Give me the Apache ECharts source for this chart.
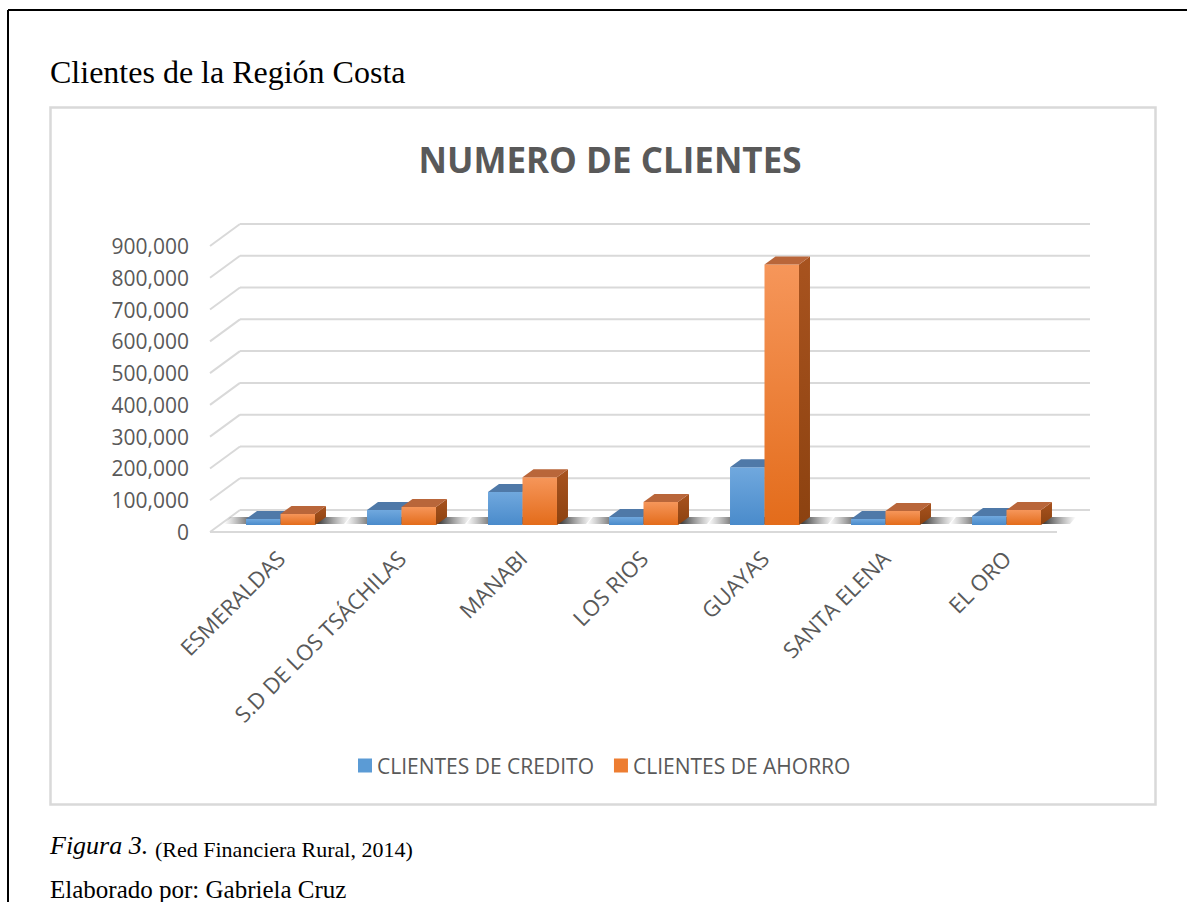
<!DOCTYPE html>
<html>
<head>
<meta charset="utf-8">
<title>Clientes de la Región Costa</title>
<script src="https://cdn.jsdelivr.net/npm/echarts@6/dist/echarts.min.js"></script>
<style>
  html, body { margin: 0; padding: 0; background: #fff; }
  #chart { width: 1187px; height: 902px; }
</style>
</head>
<body>
<div id="chart"></div>
<script>
// datos
var provincias = ['ESMERALDAS', 'S.D DE LOS TSÁCHILAS', 'MANABI', 'LOS RIOS', 'GUAYAS', 'SANTA ELENA', 'EL ORO'];
var clientesCredito = [19000, 47000, 104000, 25000, 182000, 19000, 28000];
var clientesAhorro = [35000, 57000, 150000, 72000, 820000, 44000, 47000];
var ejeTicks = [0, 100000, 200000, 300000, 400000, 500000, 600000, 700000, 800000, 900000];
var nombreSeries = ['CLIENTES DE CREDITO', 'CLIENTES DE AHORRO'];

// layout del "3D"
var GRID_LEFT = 220, GRID_TOP = 239, GRID_W = 847, GRID_H = 286;
var DX = 11, DY = -8;            // profundidad de las barras
var FRONT_DY = 7, BACK_DY = -15; // borde frontal del piso / pared trasera
var GRAY = '#595959', LINE = '#d9d9d9';

var colores = [
  { front: ['#70a8de', '#4a8bcb'], top: '#4f79a8', side: ['#41699a', '#36598a'], legend: '#5b9bd5' },
  { front: ['#f6965a', '#e36c1b'], top: '#b9663a', side: ['#a8531f', '#8c4210'], legend: '#ed7d31' }
];

function grad(c) {
  return new echarts.graphic.LinearGradient(0, 0, 0, 1, [
    { offset: 0, color: c[0] }, { offset: 1, color: c[1] }
  ]);
}

function renderBar(idx) {
  return function (params, api) {
    var cat = api.value(0);
    var base = api.coord([cat, 0]);
    var top = api.coord([cat, api.value(1)]);
    var w = api.size([1, 0])[0] * 0.285;
    var x0 = idx === 0 ? base[0] - w : base[0];
    var x1 = x0 + w;
    var yb = base[1], yt = top[1];
    var c = colores[idx];
    return {
      type: 'group',
      children: [
        { type: 'polygon', shape: { points: [[x1, yt], [x1 + DX, yt + DY], [x1 + DX, yb + DY], [x1, yb]] },
          style: { fill: grad(c.side) } },
        { type: 'rect', shape: { x: x0, y: yt, width: w, height: yb - yt }, style: { fill: grad(c.front) } },
        { type: 'polygon', shape: { points: [[x0, yt], [x0 + DX, yt + DY], [x1 + DX, yt + DY], [x1, yt]] },
          style: { fill: c.top } }
      ]
    };
  };
}

function renderWall(params, api) {
  var y = api.coord([0, api.value(1)])[1];
  var left = GRID_LEFT - 10, backLeft = GRID_LEFT + 20, backRight = GRID_LEFT + GRID_W + 23;
  var st = { stroke: LINE, lineWidth: 2 };
  var kids = [
    { type: 'line', shape: { x1: backLeft, y1: y + BACK_DY, x2: backRight, y2: y + BACK_DY }, style: st },
    { type: 'line', shape: { x1: left, y1: y + FRONT_DY, x2: backLeft, y2: y + BACK_DY }, style: st }
  ];
  if (api.value(1) === 0) {
    kids.push({ type: 'line', shape: { x1: left, y1: y + FRONT_DY, x2: GRID_LEFT + GRID_W - 10, y2: y + FRONT_DY }, style: st });
  }
  return { type: 'group', children: kids };
}

function renderShadow(params, api) {
  var base = api.coord([api.value(0), 0]);
  var w = api.size([1, 0])[0] * 0.285;
  var xl = base[0] - w - 22, xr = base[0] + w + DX + 24;
  return {
    type: 'polygon',
    shape: { points: [[xl, base[1] - 1], [xl + 6, base[1] - 8], [xr, base[1] - 8], [xr - 6, base[1] - 1]] },
    style: {
      fill: new echarts.graphic.LinearGradient(0, 0, 1, 0, [
        { offset: 0, color: 'rgba(90,90,90,0)' },
        { offset: 0.25, color: 'rgba(45,45,45,0.9)' },
        { offset: 0.75, color: 'rgba(45,45,45,0.9)' },
        { offset: 1, color: 'rgba(90,90,90,0)' }
      ])
    }
  };
}

var chart = echarts.init(document.getElementById('chart'), null, { renderer: 'svg' });

var option = {
  backgroundColor: '#fff',
  animation: false,
  title: [{
    text: 'NUMERO DE CLIENTES',
    left: 605, top: 137, textAlign: 'center',
    textStyle: { fontFamily: 'Open Sans', fontWeight: 'bold', fontSize: 35, color: GRAY }
  }],
  legend: {
    data: nombreSeries,
    left: 353, top: 750,
    icon: 'rect', itemWidth: 14, itemHeight: 14, itemGap: 20,
    textStyle: { fontFamily: 'Open Sans', fontSize: 21, color: GRAY }
  },
  grid: [
    { left: GRID_LEFT, top: GRID_TOP, width: GRID_W, height: GRID_H },
    { left: GRID_LEFT - 10, top: GRID_TOP + FRONT_DY, width: GRID_W, height: GRID_H }
  ],
  xAxis: [
    { type: 'category', gridIndex: 0, data: provincias,
      axisLine: { show: false }, axisTick: { show: false },
      axisLabel: { rotate: 45, interval: 0, margin: 29, fontFamily: 'Open Sans', fontSize: 22, color: GRAY } },
    { type: 'category', gridIndex: 1, data: provincias, show: false }
  ],
  yAxis: [
    { type: 'value', gridIndex: 0, min: 0, max: 900000, interval: 100000,
      axisLabel: { show: false }, splitLine: { show: false }, axisLine: { show: false } },
    { type: 'value', gridIndex: 1, min: 0, max: 900000, interval: 100000,
      axisLine: { show: false }, axisTick: { show: false }, splitLine: { show: false },
      axisLabel: { margin: 21, fontFamily: 'Open Sans', fontSize: 21, color: GRAY,
        formatter: function (v) { return v.toLocaleString('en-US'); } } }
  ],
  series: [
    { type: 'custom', silent: true, renderItem: renderWall, encode: { x: 0, y: 1 },
      data: ejeTicks.map(function (v) { return [0, v]; }) },
    { type: 'custom', silent: true, renderItem: renderShadow, encode: { x: 0, y: 1 },
      data: provincias.map(function (p, i) { return [i, 0]; }) },
    { type: 'custom', name: nombreSeries[0], renderItem: renderBar(0), encode: { x: 0, y: 1 },
      itemStyle: { color: colores[0].legend },
      data: clientesCredito.map(function (v, i) { return [i, v]; }) },
    { type: 'custom', name: nombreSeries[1], renderItem: renderBar(1), encode: { x: 0, y: 1 },
      itemStyle: { color: colores[1].legend },
      data: clientesAhorro.map(function (v, i) { return [i, v]; }) }
  ],
  graphic: [
    { type: 'line', shape: { x1: 8, y1: 10, x2: 1187, y2: 10 }, style: { stroke: '#000', lineWidth: 2 } },
    { type: 'line', shape: { x1: 8, y1: 10, x2: 8, y2: 902 }, style: { stroke: '#000', lineWidth: 2 } },
    { type: 'rect', shape: { x: 50.5, y: 107.5, width: 1105, height: 697 }, style: { fill: 'none', stroke: LINE, lineWidth: 2.5 } },
    { type: 'text', left: 50, top: 56, style: { text: 'Clientes de la Región Costa', font: '32px "Liberation Serif"', fill: '#000' } },
    { type: 'text', left: 50, top: 832, style: { text: 'Figura 3.', font: 'italic 26px "Liberation Serif"', fill: '#000' } },
    { type: 'text', left: 155, top: 838, style: { text: '(Red Financiera Rural, 2014)', font: '22px "Liberation Serif"', fill: '#000' } },
    { type: 'text', left: 50, top: 877, style: { text: 'Elaborado por: Gabriela Cruz', font: '25px "Liberation Serif"', fill: '#000' } }
  ]
};

chart.setOption(option);
</script>
</body>
</html>
